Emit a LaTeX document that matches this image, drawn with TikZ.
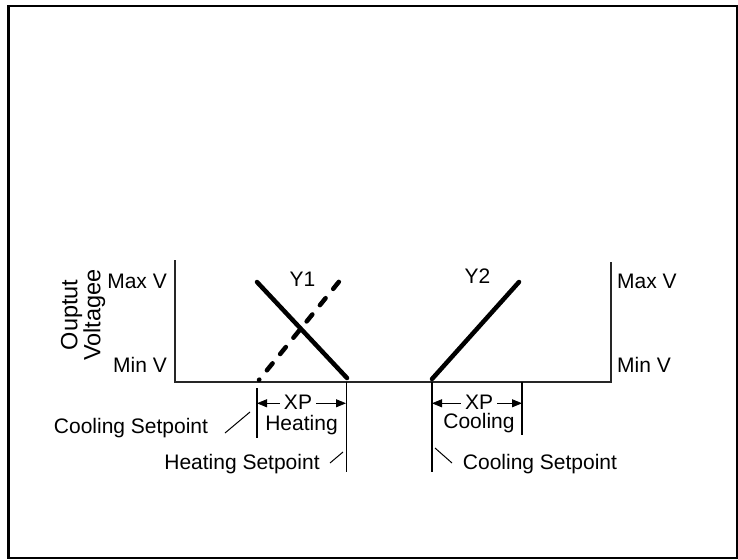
\documentclass[tikz,border=0pt]{standalone}
\usepackage{fontspec}
\setmainfont{Liberation Sans}
\usetikzlibrary{arrows.meta,positioning,calc}

\begin{document}
\begin{tikzpicture}[x=1pt, y=-1pt, >={Triangle[length=10pt,width=8pt]},
    lbl/.style={font=\fontsize{21}{27}\selectfont, inner sep=0pt},
    axis/.style={line width=1.4pt, black!85},
    ctrl/.style={line width=4.5pt, line cap=round},
    tick/.style={line width=1pt},
    tickb/.style={line width=2pt}]
    \useasboundingbox (0,0) rectangle (738,559);
    \draw[line width=2.5pt] (8.5,6) rectangle (737,558);

    % axes
    \coordinate (ytop) at (175,260);
    \coordinate (o) at (175,382);
    \coordinate (xend) at (611,382);
    \coordinate (rtop) at (611,262);
    \draw[axis] (ytop) -- (o) -- (xend) -- (rtop);

    \node[lbl, anchor=base east] (maxl) at (167,288) {Max V};
    \node[lbl, anchor=base east] (minl) at (167,372) {Min V};
    \node[lbl, anchor=base west] (maxr) at (617,288) {Max V};
    \node[lbl, anchor=base west] (minr) at (617,372) {Min V};
    \node[inner sep=0pt, font=\fontsize{23.5}{23}\selectfont, rotate=90, align=center] (ylab) at (83,315) {Ouptut\\Voltagee};

    % Y1 (heating solid, cooling dashed)
    \coordinate (h1) at (257,282);
    \coordinate (hsp) at (347,378);
    \draw[ctrl] (h1) -- (hsp);
    \coordinate (csp) at (259,380);
    \coordinate (c1) at (342,278);
    \draw[ctrl, dash pattern=on 9pt off 12pt, dash phase=8.5pt] (csp) -- (c1);
    \node[lbl, anchor=base] (y1) at (302.5,286) {Y1};

    % Y2
    \coordinate (c2a) at (432,379);
    \coordinate (c2b) at (519,282);
    \draw[ctrl] (c2a) -- (c2b);
    \node[lbl, anchor=base] (y2) at (477.5,283) {Y2};

    % setpoint ticks
    \coordinate (tcl) at (257,388);
    \coordinate (tclb) at (257,438);
    \coordinate (thr) at (346,382);
    \coordinate (thrb) at (346,472);
    \coordinate (tcc) at (432,382);
    \coordinate (tccb) at (432,472);
    \coordinate (tcr) at (522,382);
    \coordinate (tcrb) at (522,435);
    \draw[tickb] (tcl) -- (tclb);
    \draw[tick] (thr) -- (thrb);
    \draw[tickb] (tcc) -- (tccb);
    \draw[tickb] (tcr) -- (tcrb);

    % XP bands
    \node[lbl, anchor=base] (xph) at (298,409) {XP};
    \node[lbl, anchor=base] (heat) at (301.5,430) {Heating};
    \draw[->, thick] ([shift={(-4pt,-1.5pt)}]xph.west) -- ([yshift=-1.5pt]xph.west -| tcl);
    \draw[->, thick] ([shift={(4pt,-1.5pt)}]xph.east) -- ([yshift=-1.5pt]xph.east -| thr);

    \node[lbl, anchor=base] (xpc) at (479,409) {XP};
    \node[lbl, anchor=base] (cool) at (479,428) {Cooling};
    \draw[->, thick] ([shift={(-4pt,-1.5pt)}]xpc.west) -- ([yshift=-1.5pt]xpc.west -| tcc);
    \draw[->, thick] ([shift={(4pt,-1.5pt)}]xpc.east) -- ([yshift=-1.5pt]xpc.east -| tcr);

    % setpoint labels
    \node[lbl, anchor=base] (cspl) at (131,433) {Cooling Setpoint};
    \node[lbl, anchor=base] (hspl) at (242,469) {Heating Setpoint};
    \node[lbl, anchor=base] (cspr) at (540,469) {Cooling Setpoint};
    \coordinate (lcs) at (225,433);
    \coordinate (lcse) at (250,412);
    \coordinate (lhs) at (330,463);
    \coordinate (lhse) at (343,452);
    \coordinate (lcr) at (452,463);
    \coordinate (lcre) at (435,448);
    \draw[tick] (lcs) -- (lcse);
    \draw[tick] (lhs) -- (lhse);
    \draw[tick] (lcr) -- (lcre);
\end{tikzpicture}
\end{document}
